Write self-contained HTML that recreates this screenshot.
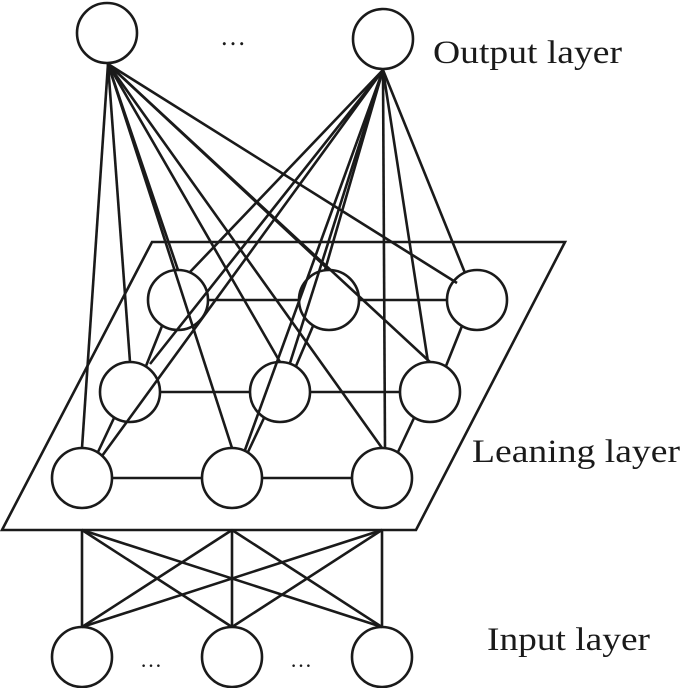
<!DOCTYPE html>
<html><head><meta charset="utf-8"><style>html,body{margin:0;padding:0;background:#fff}svg{display:block}</style></head>
<body>
<svg width="685" height="688" viewBox="0 0 685 688" xmlns="http://www.w3.org/2000/svg">
<g stroke="#1a1a1a" stroke-width="2.6" fill="none">
<polygon points="152,242 565,242 416,530 2,530"/>
<!-- output1 lines -->
<g>
<line x1="108" y1="64" x2="82" y2="448"/>
<line x1="108" y1="64" x2="232" y2="448"/>
<line x1="108" y1="64" x2="382" y2="448"/>
<line x1="108" y1="64" x2="130" y2="362"/>
<line x1="108" y1="64" x2="280" y2="362"/>
<line x1="108" y1="64" x2="430" y2="362"/>
<line x1="108" y1="64" x2="178" y2="270"/>
<line x1="108" y1="64" x2="329" y2="270"/>
<line x1="108" y1="64" x2="457" y2="283"/>
</g>
<g>
<line x1="383" y1="70" x2="102" y2="456"/>
<line x1="383" y1="70" x2="245" y2="450"/>
<line x1="383" y1="70" x2="385" y2="448"/>
<line x1="383" y1="70" x2="150" y2="364"/>
<line x1="383" y1="70" x2="290" y2="363"/>
<line x1="383" y1="70" x2="428" y2="362"/>
<line x1="383" y1="70" x2="190" y2="272"/>
<line x1="383" y1="70" x2="325" y2="270"/>
<line x1="383" y1="70" x2="465" y2="273"/>
</g>
<!-- rows -->
<line x1="208" y1="300" x2="299" y2="300"/><line x1="359" y1="300" x2="447" y2="300"/>
<line x1="160" y1="392" x2="250" y2="392"/><line x1="310" y1="392" x2="400" y2="392"/>
<line x1="112" y1="478" x2="202" y2="478"/><line x1="262" y1="478" x2="352" y2="478"/>
<!-- columns -->
<line x1="162" y1="326" x2="146" y2="366"/><line x1="114" y1="418" x2="98" y2="452"/>
<line x1="313" y1="326" x2="296" y2="366"/><line x1="264" y1="418" x2="248" y2="452"/>
<line x1="462" y1="326" x2="446" y2="366"/><line x1="414" y1="418" x2="398" y2="452"/>
<!-- input connections -->
<line x1="82" y1="530" x2="82" y2="627"/><line x1="232" y1="530" x2="232" y2="627"/><line x1="382" y1="530" x2="382" y2="627"/>
<line x1="82" y1="530" x2="232" y2="627"/><line x1="82" y1="530" x2="382" y2="627"/>
<line x1="232" y1="530" x2="82" y2="627"/><line x1="232" y1="530" x2="382" y2="627"/>
<line x1="382" y1="530" x2="82" y2="627"/><line x1="382" y1="530" x2="232" y2="627"/>
<!-- nodes -->
<circle cx="107" cy="33" r="30"/><circle cx="383" cy="39" r="30"/>
<circle cx="178" cy="300" r="30"/><circle cx="329" cy="300" r="30"/><circle cx="477" cy="300" r="30"/>
<circle cx="130" cy="392" r="30"/><circle cx="280" cy="392" r="30"/><circle cx="430" cy="392" r="30"/>
<circle cx="82" cy="478" r="30"/><circle cx="232" cy="478" r="30"/><circle cx="382" cy="478" r="30"/>
<circle cx="82" cy="657" r="30"/><circle cx="232" cy="657" r="30"/><circle cx="382" cy="657" r="30"/>
</g>
<g font-family="Liberation Serif, serif" fill="#1a1a1a">
<text x="220" y="45" font-size="26">…</text>
<text x="140" y="667" font-size="22">…</text>
<text x="290" y="667" font-size="22">…</text>
<text x="433" y="63" font-size="33" textLength="189" lengthAdjust="spacingAndGlyphs">Output layer</text>
<text x="472" y="462" font-size="33" textLength="208" lengthAdjust="spacingAndGlyphs">Leaning layer</text>
<text x="487" y="650" font-size="33" textLength="163" lengthAdjust="spacingAndGlyphs">Input layer</text>
</g>
</svg>
</body></html>
